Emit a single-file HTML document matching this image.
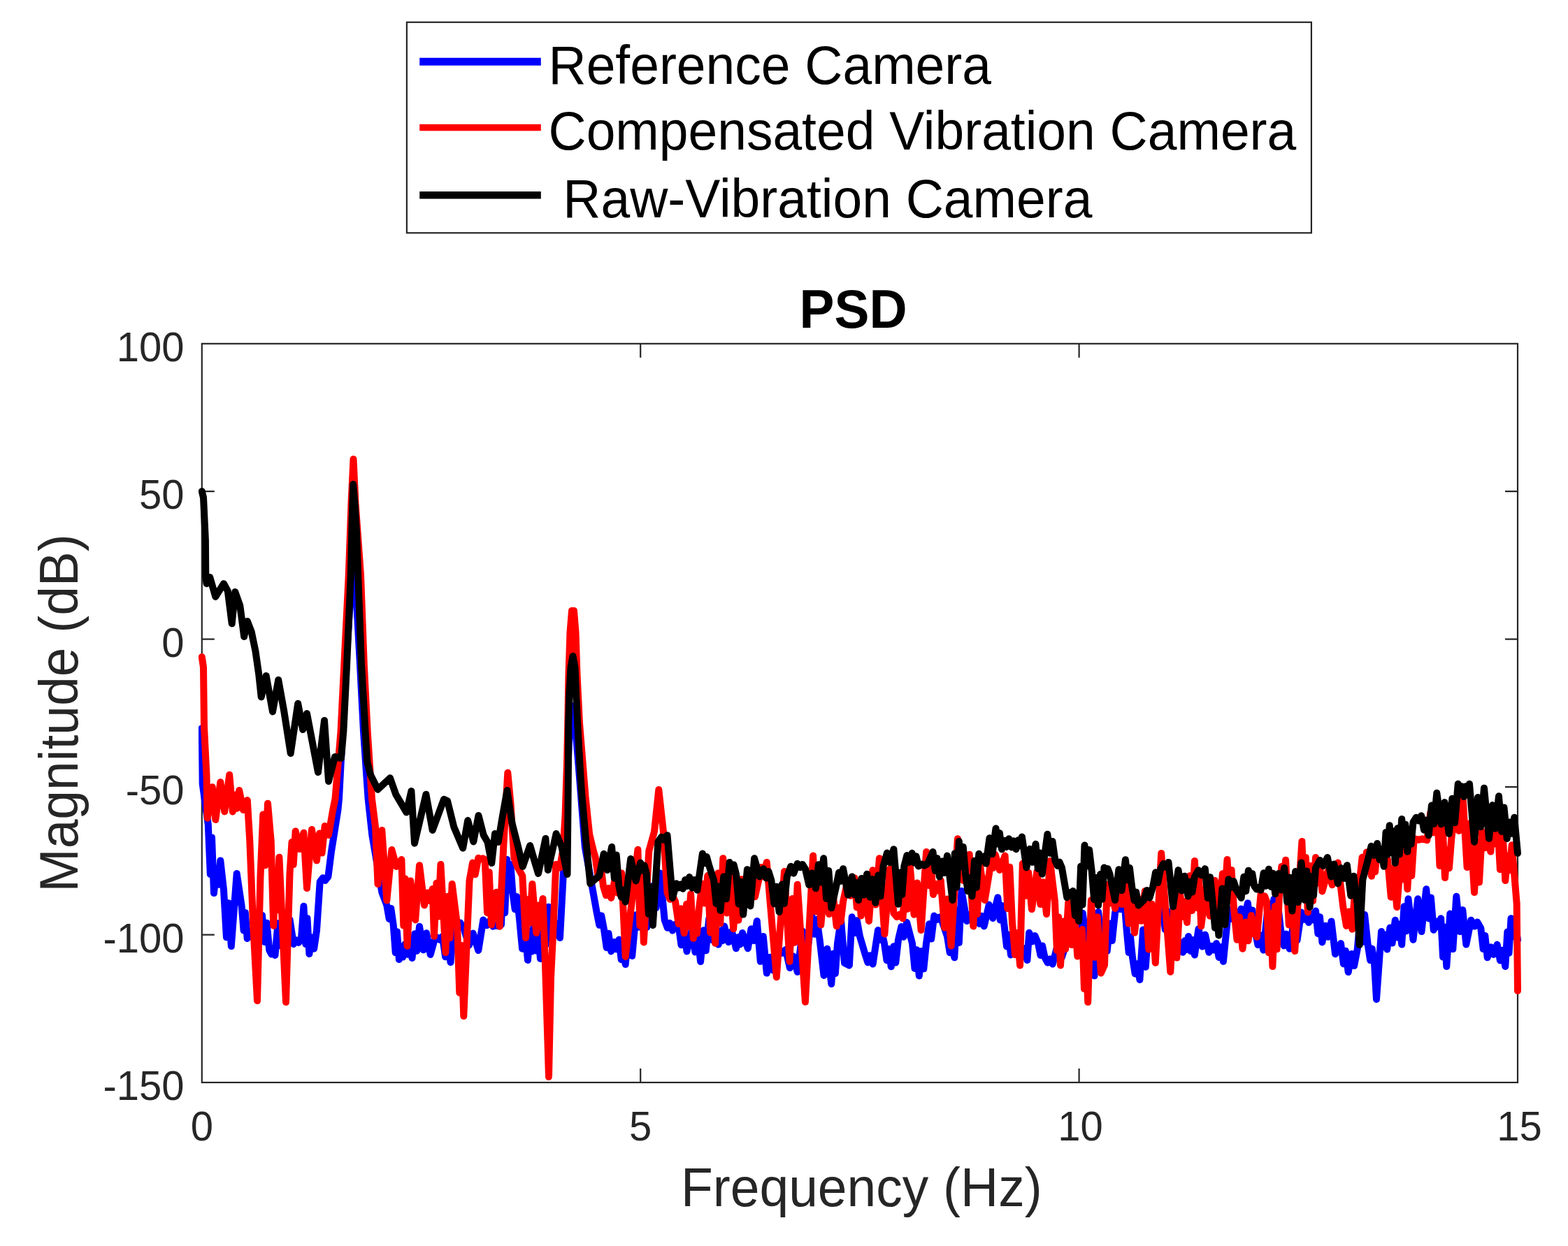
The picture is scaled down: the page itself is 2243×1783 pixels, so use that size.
<!DOCTYPE html>
<html><head><meta charset="utf-8"><title>PSD</title>
<style>html,body{margin:0;padding:0;background:#fff;overflow:hidden}svg{display:block}</style>
</head><body>
<svg width="2243" height="1783" viewBox="0 0 2243 1783">
<rect width="2243" height="1783" fill="#fff"/>
<rect x="288.8" y="491.8" width="1882.2" height="1057.2" fill="none" stroke="#262626" stroke-width="2.2"/>
<path d="M916.2,491.8V511.8M916.2,1549.0V1529.0M1543.6,491.8V511.8M1543.6,1549.0V1529.0M288.8,703.2H306.8M2171.0,703.2H2153.0M288.8,914.7H306.8M2171.0,914.7H2153.0M288.8,1126.1H306.8M2171.0,1126.1H2153.0M288.8,1337.6H306.8M2171.0,1337.6H2153.0" stroke="#262626" stroke-width="2.2" fill="none"/>
<clipPath id="c"><rect x="283.8" y="486.8" width="1892.2" height="1067.2"/></clipPath>
<g clip-path="url(#c)" fill="none" stroke-width="10" stroke-linejoin="round" stroke-linecap="round">
<polyline stroke="#0000ff" points="288.8,1042.0 289.7,1121.7 297.8,1180.0 300.8,1251.0 303.0,1198.4 306.0,1278.0 309.3,1244.2 312.0,1265.9 315.3,1231.4 320.0,1273.4 323.9,1341.2 326.9,1292.2 330.8,1354.0 338.7,1250.0 345.7,1296.7 348.6,1331.5 350.8,1305.9 353.7,1343.0 357.8,1332.1 360.9,1340.8 365.0,1330.0 368.6,1314.9 371.4,1326.0 375.0,1310.0 378.7,1348.1 381.6,1320.7 385.3,1359.7 388.3,1365.4 390.5,1361.7 393.5,1367.0 397.6,1321.2 400.9,1353.1 405.0,1310.0 410.4,1341.1 414.6,1316.2 420.0,1351.0 424.0,1345.3 427.0,1348.9 431.0,1343.0 434.4,1296.7 437.3,1351.1 439.5,1314.0 442.4,1365.0 446.2,1341.5 449.2,1357.5 453.0,1331.7 457.7,1261.7 461.9,1256.2 465.2,1259.9 469.4,1254.7 474.0,1218.4 483.3,1160.0 485.0,1143.0 490.0,1047.0 495.0,951.0 501.0,860.0 504.0,790.0 505.5,778.0 507.0,790.0 510.0,860.0 515.0,951.0 520.0,1047.0 526.6,1143.0 532.3,1195.0 546.3,1276.7 553.3,1295.4 556.7,1315.0 559.3,1299.9 562.7,1323.4 565.7,1363.1 567.9,1333.2 570.9,1373.0 573.8,1355.7 576.1,1369.6 579.0,1351.4 582.8,1365.7 585.7,1356.8 589.5,1371.0 593.3,1336.2 596.2,1360.7 600.0,1325.7 605.7,1359.3 610.0,1335.2 615.7,1366.0 621.0,1346.7 625.3,1341.4 628.7,1344.8 633.0,1340.0 637.1,1369.2 640.4,1349.2 644.5,1377.0 649.3,1318.7 654.3,1325.3 658.3,1320.4 663.3,1328.0 670.9,1352.7 676.7,1335.4 684.3,1360.0 691.3,1316.4 696.3,1324.2 700.3,1318.1 705.3,1325.7 709.5,1324.0 712.8,1325.3 717.0,1323.4 720.0,1254.4 722.2,1306.0 725.2,1230.0 728.1,1268.9 730.4,1237.0 733.3,1276.7 736.7,1301.2 739.3,1283.1 742.7,1311.7 747.1,1357.7 750.6,1329.3 755.0,1374.0 758.1,1332.2 760.6,1361.5 763.7,1323.4 767.0,1360.4 769.7,1335.2 773.0,1372.0 777.2,1315.9 780.5,1352.1 784.7,1297.7 801.0,1342.0 805.7,1253.4 810.0,1150.0 815.0,1040.0 819.0,1010.0 823.0,1040.0 828.0,1100.0 836.8,1212.0 853.6,1305.4 857.3,1323.8 860.3,1310.3 864.0,1330.0 867.7,1356.1 870.5,1335.8 874.2,1361.4 878.2,1347.9 881.4,1358.2 885.4,1344.6 888.7,1373.2 891.4,1351.1 894.7,1380.0 900.1,1323.1 904.2,1368.0 909.6,1309.2 913.3,1326.7 916.3,1315.0 920.0,1330.0 923.0,1314.3 925.3,1326.8 928.3,1311.0 934.0,1267.7 938.5,1299.0 944.2,1249.4 950.7,1316.6 954.8,1327.8 957.9,1320.8 962.0,1331.6 964.9,1323.1 967.1,1328.6 970.0,1320.0 974.5,1352.3 978.0,1329.4 982.5,1361.4 990.0,1330.0 994.4,1362.4 997.7,1337.5 1002.1,1376.0 1006.5,1331.2 1009.8,1360.3 1014.2,1314.7 1019.1,1345.3 1022.8,1321.4 1027.7,1351.6 1030.7,1331.7 1033.1,1346.3 1036.1,1325.4 1042.2,1348.1 1046.9,1332.6 1053.0,1357.2 1056.2,1340.9 1058.8,1351.4 1062.0,1335.0 1069.8,1357.2 1074.5,1329.2 1078.1,1346.1 1082.8,1318.0 1087.8,1375.8 1091.8,1340.0 1096.8,1392.6 1101.6,1369.7 1105.2,1388.2 1110.0,1365.0 1115.0,1360.5 1118.9,1363.7 1123.9,1359.0 1129.9,1385.1 1134.7,1368.3 1140.7,1390.8 1148.1,1332.7 1153.9,1371.0 1161.3,1310.5 1165.3,1336.7 1168.5,1315.8 1172.5,1344.1 1178.5,1395.9 1183.3,1357.7 1189.3,1408.0 1192.4,1364.4 1194.9,1392.9 1198.0,1350.0 1203.0,1316.0 1208.0,1378.0 1214.9,1381.4 1218.7,1312.3 1222.8,1335.1 1225.9,1317.3 1230.0,1340.0 1237.3,1364.6 1241.4,1377.2 1244.5,1367.2 1248.6,1379.6 1256.0,1331.0 1259.2,1345.1 1261.8,1335.7 1265.0,1350.0 1268.5,1374.2 1271.2,1358.0 1274.7,1383.3 1278.4,1354.3 1281.3,1377.5 1285.0,1345.0 1289.4,1326.0 1292.7,1340.8 1297.1,1319.8 1305.0,1350.0 1308.5,1386.0 1311.3,1359.3 1314.8,1396.4 1318.5,1361.0 1321.3,1386.4 1325.0,1350.0 1329.1,1322.2 1332.2,1343.6 1336.3,1310.5 1340.3,1315.9 1343.5,1312.4 1347.5,1318.0 1355.0,1340.0 1358.7,1363.3 1361.6,1346.7 1365.3,1370.2 1369.0,1302.6 1371.8,1349.1 1375.5,1275.0 1383.0,1318.0 1388.2,1308.5 1392.3,1314.7 1397.5,1306.7 1401.2,1322.0 1404.0,1310.7 1407.7,1325.4 1414.8,1294.6 1420.2,1314.0 1427.3,1284.3 1430.7,1316.5 1433.3,1295.9 1436.7,1325.4 1440.0,1354.4 1442.7,1337.7 1446.0,1366.5 1450.3,1353.7 1453.7,1361.9 1458.0,1350.0 1462.1,1368.0 1465.3,1357.1 1469.4,1374.0 1472.2,1334.7 1476.8,1347.2 1480.4,1339.0 1485.0,1350.0 1488.5,1367.0 1491.1,1353.4 1494.6,1370.2 1498.6,1377.5 1501.8,1372.3 1505.8,1379.6 1513.2,1351.1 1518.9,1370.1 1526.3,1346.0 1534.4,1317.9 1540.6,1337.8 1548.7,1306.7 1556.0,1360.0 1559.4,1389.1 1562.1,1369.9 1565.5,1396.4 1571.1,1304.9 1575.6,1347.2 1579.2,1321.4 1583.7,1360.9 1587.8,1321.4 1590.9,1346.0 1595.0,1306.7 1599.7,1287.7 1603.3,1301.1 1608.0,1284.3 1611.7,1331.0 1614.7,1363.1 1617.0,1340.5 1620.0,1370.0 1623.7,1393.5 1626.7,1379.2 1630.4,1402.0 1635.1,1330.5 1638.8,1383.7 1643.5,1316.1 1646.6,1319.1 1648.9,1316.9 1652.0,1320.0 1655.7,1302.7 1658.5,1313.8 1662.2,1297.4 1666.8,1330.2 1670.4,1304.3 1675.0,1340.0 1681.1,1356.9 1685.9,1346.8 1692.0,1362.8 1694.9,1346.1 1697.1,1358.9 1700.0,1340.0 1703.2,1360.9 1705.7,1344.9 1708.9,1366.5 1714.5,1329.2 1719.9,1354.5 1724.0,1337.5 1729.4,1362.8 1733.2,1353.7 1736.2,1359.4 1740.0,1350.0 1743.6,1369.9 1746.3,1355.1 1749.9,1375.8 1757.4,1301.1 1761.9,1314.8 1765.5,1305.4 1770.0,1320.0 1775.4,1300.6 1779.5,1315.7 1784.9,1292.3 1788.5,1323.7 1791.4,1302.4 1795.0,1330.0 1799.4,1352.0 1802.9,1338.1 1807.3,1359.6 1812.7,1307.6 1816.9,1338.9 1822.3,1286.7 1825.8,1319.0 1828.5,1298.9 1832.0,1330.0 1836.6,1353.3 1840.1,1336.6 1844.7,1357.7 1850.7,1319.2 1855.5,1345.4 1861.5,1305.4 1865.3,1315.7 1868.2,1308.8 1872.0,1320.0 1875.6,1307.5 1878.4,1316.4 1882.0,1303.5 1885.4,1336.2 1888.0,1312.1 1891.4,1348.4 1896.1,1324.7 1899.8,1340.8 1904.5,1318.5 1910.0,1365.2 1912.9,1354.1 1915.1,1362.1 1918.0,1350.0 1921.9,1379.3 1924.8,1360.7 1928.7,1391.0 1933.4,1364.9 1937.1,1382.0 1941.8,1357.7 1945.5,1316.5 1948.4,1348.2 1952.1,1309.1 1956.7,1352.1 1960.1,1374.1 1962.7,1357.6 1966.1,1380.1 1969.0,1430.0 1976.0,1333.0 1979.0,1351.2 1981.2,1337.5 1984.2,1358.6 1988.4,1327.4 1991.6,1349.5 1995.8,1316.7 1999.2,1341.5 2001.8,1322.4 2005.2,1351.6 2008.5,1297.3 2011.2,1332.5 2014.5,1286.3 2021.5,1344.7 2028.2,1286.3 2033.5,1333.1 2040.2,1272.3 2044.0,1314.4 2046.9,1284.6 2050.7,1330.7 2054.5,1318.6 2057.4,1326.5 2061.2,1314.3 2064.1,1369.5 2066.4,1326.4 2069.3,1383.0 2074.3,1307.6 2078.3,1358.1 2083.3,1282.8 2088.3,1333.1 2092.3,1302.1 2097.3,1351.6 2104.3,1316.7 2109.3,1325.6 2113.3,1319.5 2118.3,1328.3 2121.7,1358.1 2124.3,1338.9 2127.7,1370.3 2132.7,1355.2 2136.7,1365.9 2141.7,1351.6 2145.9,1374.4 2149.1,1359.8 2153.3,1383.0 2156.3,1333.6 2158.5,1363.7 2161.5,1314.3 2164.9,1340.3 2167.6,1322.2 2171.0,1345.0"/>
<polyline stroke="#ff0000" points="288.8,940.0 291.0,955.0 292.0,1040.0 295.5,1110.0 296.7,1170.7 303.7,1126.3 308.3,1173.0 315.3,1119.3 321.2,1161.4 328.2,1108.8 332.8,1161.4 336.2,1137.4 338.8,1156.8 342.2,1131.0 348.0,1159.0 353.8,1145.0 357.3,1203.4 362.0,1320.0 368.0,1432.0 372.5,1254.7 376.3,1165.5 379.2,1238.3 383.0,1149.7 387.7,1203.4 391.2,1324.7 394.2,1251.0 396.4,1302.0 399.4,1226.7 409.0,1434.0 414.5,1250.0 417.5,1205.1 419.7,1237.1 422.7,1189.4 428.5,1215.0 434.4,1191.7 439.0,1271.0 446.0,1187.0 453.0,1231.4 457.2,1192.4 460.5,1220.6 464.7,1182.0 470.0,1195.0 476.0,1160.0 479.5,1143.0 487.5,1047.0 492.3,951.0 498.8,822.5 502.5,720.0 505.5,657.0 508.5,720.0 516.0,822.5 520.8,951.0 525.7,1047.0 532.0,1143.0 537.0,1183.4 540.5,1265.0 546.3,1188.0 553.3,1288.4 560.4,1216.0 567.0,1240.0 574.4,1230.0 577.3,1324.6 579.6,1257.2 582.5,1353.7 587.2,1260.4 594.2,1316.4 600.0,1238.2 607.0,1295.4 611.2,1277.4 614.5,1288.8 618.7,1272.0 621.0,1339.7 624.4,1263.8 627.0,1311.4 630.4,1237.0 637.4,1363.0 640.7,1282.7 643.4,1342.4 646.7,1265.0 654.0,1323.4 657.3,1420.7 660.0,1353.0 663.3,1454.0 671.5,1260.4 676.1,1234.6 679.7,1251.4 684.3,1227.7 687.7,1229.3 690.3,1228.3 693.7,1230.0 697.0,1306.0 699.7,1248.0 703.0,1323.4 710.0,1276.7 714.7,1325.7 720.5,1206.7 726.3,1105.7 730.5,1150.0 733.0,1190.0 735.5,1228.0 740.0,1240.0 747.3,1253.4 752.0,1342.0 755.4,1287.1 758.0,1320.6 761.4,1265.0 767.2,1335.0 770.5,1295.4 773.2,1326.5 776.5,1286.0 780.0,1380.0 785.0,1541.0 788.0,1400.0 791.7,1323.4 795.2,1237.0 801.0,1241.7 805.5,1215.0 808.5,1168.0 811.0,1093.0 812.3,1035.0 813.5,965.0 815.5,905.0 818.0,874.0 821.0,874.0 823.5,905.0 825.5,965.0 829.0,1035.0 833.7,1093.0 837.5,1140.0 843.2,1194.0 849.0,1218.0 851.7,1227.0 855.8,1256.0 858.9,1235.1 863.0,1268.0 867.0,1281.3 870.2,1270.9 874.2,1284.9 879.6,1258.5 883.7,1277.9 889.1,1249.4 894.7,1368.9 912.4,1215.8 915.4,1324.7 917.8,1244.6 920.8,1348.4 928.3,1217.6 936.0,1190.0 942.3,1130.0 948.9,1189.6 954.5,1277.4 958.6,1286.9 961.9,1281.1 966.0,1290.0 970.6,1321.9 974.1,1300.3 978.7,1335.3 982.1,1293.8 984.7,1325.9 988.1,1279.3 991.8,1342.8 994.8,1309.1 997.0,1335.7 1000.0,1300.0 1004.4,1264.7 1007.9,1292.6 1012.3,1253.1 1016.2,1334.6 1019.2,1281.4 1023.1,1349.7 1027.1,1249.5 1030.3,1321.3 1034.3,1228.3 1039.7,1306.4 1043.8,1251.2 1049.2,1329.2 1053.2,1272.0 1056.4,1316.7 1060.4,1258.2 1064.4,1279.5 1067.6,1264.7 1071.6,1288.1 1076.3,1268.3 1080.0,1283.3 1084.7,1261.9 1089.1,1241.1 1092.4,1254.7 1096.8,1233.9 1110.8,1398.2 1122.0,1247.0 1129.5,1375.8 1133.5,1285.9 1136.7,1348.8 1140.7,1265.7 1151.9,1433.7 1163.1,1224.6 1167.1,1304.5 1170.3,1253.5 1174.3,1323.6 1179.9,1260.0 1185.9,1308.0 1190.7,1272.4 1196.7,1325.4 1200.1,1298.9 1202.7,1318.7 1206.1,1290.0 1212.0,1263.0 1216.5,1281.8 1222.4,1256.3 1225.7,1298.5 1228.4,1265.6 1231.7,1310.5 1237.0,1280.0 1243.0,1318.0 1248.4,1245.2 1252.5,1294.6 1257.9,1228.3 1265.4,1336.6 1272.8,1243.2 1278.4,1306.7 1283.1,1312.1 1286.8,1308.6 1291.5,1314.2 1295.2,1261.3 1298.1,1300.8 1301.8,1239.5 1307.5,1308.7 1311.9,1263.5 1317.6,1331.0 1325.1,1219.0 1328.7,1266.9 1331.4,1236.3 1335.0,1280.0 1338.9,1265.0 1341.8,1274.5 1345.7,1260.0 1351.1,1327.5 1355.2,1286.6 1360.6,1353.4 1369.9,1200.3 1372.8,1246.9 1375.1,1213.2 1378.0,1260.0 1381.1,1230.0 1383.6,1249.3 1386.7,1222.7 1392.3,1325.4 1395.5,1255.1 1398.0,1307.9 1401.2,1232.0 1408.7,1288.1 1415.0,1250.0 1418.1,1228.2 1420.5,1242.0 1423.6,1222.7 1430.0,1245.0 1437.6,1224.6 1441.3,1300.0 1444.3,1240.7 1448.0,1320.0 1452.0,1366.1 1455.1,1335.1 1459.1,1381.4 1462.8,1235.8 1467.5,1281.8 1471.2,1248.7 1475.9,1301.1 1483.4,1247.0 1488.3,1294.1 1492.1,1262.3 1497.0,1308.0 1502.0,1232.0 1509.0,1290.0 1511.9,1360.1 1514.1,1312.3 1517.0,1381.4 1521.0,1318.4 1524.2,1358.0 1528.2,1291.8 1532.9,1352.0 1536.6,1303.7 1541.3,1368.4 1548.0,1330.0 1551.0,1415.0 1553.2,1352.6 1556.2,1434.0 1560.9,1288.1 1565.9,1369.8 1569.9,1312.3 1574.9,1392.6 1580.0,1381.0 1583.7,1265.7 1587.8,1292.6 1590.9,1270.9 1595.0,1300.0 1600.4,1275.2 1604.5,1294.1 1609.9,1265.7 1614.6,1321.6 1618.3,1286.3 1623.0,1334.7 1628.4,1285.9 1632.5,1317.8 1637.9,1275.0 1643.3,1358.6 1647.4,1293.6 1652.8,1377.7 1661.2,1221.0 1674.3,1390.8 1679.3,1297.5 1683.3,1370.6 1688.3,1280.6 1691.8,1311.9 1694.5,1289.9 1698.0,1320.0 1701.9,1253.3 1705.0,1302.9 1708.9,1232.0 1712.2,1299.0 1714.9,1248.8 1718.2,1325.4 1725.3,1270.9 1730.7,1310.8 1737.8,1260.0 1745.0,1300.0 1748.8,1250.3 1751.7,1285.0 1755.5,1230.0 1758.9,1288.3 1761.6,1244.9 1765.0,1300.0 1769.5,1344.8 1773.0,1312.1 1777.5,1357.7 1782.0,1319.5 1785.5,1346.2 1790.0,1310.0 1792.9,1336.2 1795.1,1318.9 1798.0,1340.9 1803.6,1279.3 1806.6,1287.6 1809.0,1282.3 1812.0,1290.0 1815.0,1363.2 1817.4,1306.8 1820.4,1383.0 1823.9,1296.8 1826.5,1358.3 1830.0,1280.0 1833.3,1239.9 1835.8,1268.3 1839.1,1230.7 1843.8,1323.6 1847.5,1265.9 1852.2,1361.0 1862.4,1204.0 1865.4,1282.7 1867.8,1227.1 1870.8,1305.4 1874.8,1239.0 1878.0,1289.3 1882.0,1227.0 1885.4,1263.6 1888.0,1238.0 1891.4,1275.5 1899.5,1246.5 1905.7,1266.3 1913.8,1234.5 1921.3,1297.9 1926.0,1324.9 1929.6,1304.5 1934.3,1329.7 1938.2,1273.5 1941.1,1310.4 1945.0,1260.0 1948.6,1226.8 1951.3,1249.1 1954.9,1219.5 1962.0,1253.7 1964.9,1221.6 1967.1,1247.5 1970.0,1215.0 1975.4,1226.8 1979.6,1217.3 1985.0,1230.0 1989.8,1283.7 1993.4,1242.0 1998.2,1298.0 2005.2,1211.7 2008.1,1258.4 2010.4,1226.4 2013.3,1272.3 2016.7,1215.6 2019.3,1253.3 2022.7,1200.0 2029.4,1201.8 2034.6,1200.4 2041.3,1202.3 2046.3,1162.7 2050.3,1191.4 2055.3,1146.3 2059.5,1239.1 2062.8,1162.9 2067.0,1256.0 2070.3,1216.3 2073.0,1242.2 2076.3,1200.0 2082.2,1151.1 2086.8,1188.9 2092.7,1141.7 2098.6,1241.1 2103.1,1178.0 2109.0,1277.0 2113.0,1204.9 2116.0,1262.4 2120.0,1190.0 2124.4,1213.2 2127.9,1196.2 2132.3,1218.7 2135.7,1180.8 2138.3,1207.6 2141.7,1167.3 2145.9,1244.3 2149.1,1183.0 2153.3,1260.0 2156.7,1224.5 2159.3,1245.4 2162.7,1209.3 2169.7,1293.3 2171.0,1418.0"/>
<polyline stroke="#000000" points="288.8,703.0 291.0,712.0 293.9,773.0 294.3,824.7 295.5,835.2 300.2,825.9 308.3,853.9 320.0,835.2 325.8,845.7 331.7,892.4 336.3,846.9 343.3,866.7 349.2,911.0 353.8,888.9 359.7,904.0 365.5,932.0 370.2,964.7 373.7,997.4 380.7,967.0 390.0,1018.4 398.2,972.9 406.4,1018.4 415.7,1078.0 426.2,1006.7 433.2,1044.0 439.0,1021.0 455.0,1105.0 464.0,1031.0 470.0,1118.0 479.0,1083.0 488.0,1085.0 491.3,1047.0 496.1,951.0 501.8,822.5 503.5,750.0 505.2,693.0 507.5,720.0 510.0,760.0 512.2,822.5 517.0,951.0 522.6,1047.0 525.3,1090.0 530.0,1108.7 540.5,1129.7 558.0,1113.3 566.2,1136.7 581.4,1162.4 588.4,1132.0 593.0,1206.7 609.4,1136.7 618.7,1188.0 635.0,1143.7 640.0,1146.0 649.3,1183.4 662.2,1213.7 669.2,1174.0 677.3,1204.4 684.5,1167.0 691.7,1195.0 697.5,1205.0 703.3,1235.0 708.0,1193.0 712.7,1205.0 718.5,1170.0 725.5,1131.0 732.5,1178.0 740.7,1210.0 747.7,1240.0 758.2,1210.0 764.0,1230.0 770.0,1250.0 780.4,1200.0 783.9,1245.0 795.6,1193.0 803.4,1211.4 811.5,1251.0 812.5,1152.0 813.0,1090.0 813.2,1035.0 814.5,990.0 816.5,955.0 819.5,939.0 822.5,955.0 824.0,990.0 826.2,1035.0 829.5,1094.0 832.0,1133.0 837.3,1194.0 844.3,1264.3 857.3,1253.0 863.7,1221.8 868.7,1245.0 875.1,1212.0 878.8,1256.7 881.7,1223.4 885.4,1268.0 888.7,1283.8 891.4,1273.8 894.7,1290.5 902.2,1228.9 909.6,1260.6 916.2,1234.5 919.2,1245.8 921.6,1238.4 924.6,1249.4 927.9,1307.9 930.6,1269.2 933.9,1324.0 941.4,1204.6 946.1,1197.7 949.8,1202.0 954.5,1195.2 962.0,1284.9 967.5,1264.3 970.9,1270.4 973.5,1265.6 976.9,1271.8 980.2,1259.0 982.9,1267.9 986.2,1255.0 990.2,1270.7 993.4,1259.1 997.4,1273.7 1004.9,1221.4 1008.2,1235.3 1010.9,1226.1 1014.2,1238.2 1021.2,1260.0 1024.5,1293.1 1027.2,1268.4 1030.5,1303.0 1035.2,1254.4 1038.9,1286.4 1043.6,1233.9 1047.0,1246.4 1049.6,1237.4 1053.0,1250.7 1056.7,1293.5 1059.5,1261.7 1063.2,1308.6 1068.9,1244.2 1073.4,1296.4 1079.1,1228.3 1086.6,1254.5 1092.2,1243.2 1096.2,1256.5 1099.4,1246.9 1103.4,1260.0 1107.4,1293.2 1110.6,1268.7 1114.6,1304.9 1118.6,1265.5 1121.8,1293.0 1125.8,1254.5 1131.2,1239.8 1135.3,1249.7 1140.7,1235.8 1144.7,1241.2 1147.9,1237.0 1151.9,1243.2 1157.3,1266.3 1161.5,1249.4 1166.9,1271.3 1170.9,1237.2 1174.1,1262.5 1178.1,1228.3 1182.1,1286.0 1185.3,1245.9 1189.3,1299.3 1196.7,1265.7 1200.1,1248.6 1202.7,1260.9 1206.1,1243.2 1213.1,1280.6 1218.7,1254.5 1222.0,1280.0 1224.7,1263.0 1228.0,1288.1 1232.4,1256.9 1235.7,1280.5 1240.1,1250.7 1244.5,1283.8 1247.9,1258.1 1252.3,1291.8 1256.3,1252.4 1259.5,1282.5 1263.5,1239.5 1268.9,1220.6 1273.0,1234.2 1278.4,1215.2 1285.0,1293.7 1288.0,1248.5 1290.4,1280.1 1293.4,1239.5 1297.4,1224.0 1300.6,1233.9 1304.6,1220.8 1307.9,1234.8 1310.6,1225.3 1313.9,1239.5 1318.6,1236.5 1322.3,1238.6 1327.0,1235.8 1334.5,1219.0 1337.8,1246.1 1340.5,1228.2 1343.8,1254.5 1347.8,1232.5 1351.0,1249.0 1355.0,1224.6 1362.5,1288.1 1365.8,1221.2 1368.5,1269.6 1371.8,1204.0 1375.1,1239.9 1377.8,1212.0 1381.1,1250.7 1384.5,1275.2 1387.1,1256.2 1390.5,1282.5 1394.0,1231.7 1396.8,1270.0 1400.3,1221.8 1404.0,1232.5 1406.8,1225.5 1410.5,1235.8 1415.5,1199.2 1419.5,1222.2 1424.5,1185.4 1427.6,1207.8 1429.9,1192.2 1433.0,1215.2 1436.7,1202.9 1439.5,1211.9 1443.2,1200.3 1446.9,1212.4 1449.8,1203.2 1453.5,1215.2 1456.5,1202.3 1458.9,1210.2 1461.9,1197.5 1468.4,1241.4 1473.1,1214.8 1476.8,1233.8 1481.5,1207.8 1484.8,1243.2 1487.5,1220.4 1490.8,1250.7 1498.3,1193.8 1502.3,1220.9 1505.5,1203.9 1509.5,1232.0 1512.9,1239.0 1515.5,1233.6 1518.9,1241.4 1526.3,1284.3 1529.4,1277.0 1531.9,1282.1 1535.0,1275.0 1537.9,1310.2 1540.2,1287.2 1543.1,1318.0 1546.1,1239.7 1548.5,1294.5 1551.5,1209.6 1555.2,1239.3 1558.1,1216.1 1561.8,1247.0 1565.1,1287.2 1567.8,1256.1 1571.1,1295.5 1574.1,1251.1 1576.5,1286.8 1579.5,1241.4 1582.4,1249.1 1584.6,1243.1 1587.5,1250.7 1595.0,1288.1 1600.4,1244.2 1604.5,1274.2 1609.9,1230.2 1613.2,1259.4 1615.9,1241.9 1619.2,1269.4 1622.6,1288.4 1625.2,1276.7 1628.6,1295.5 1636.0,1288.1 1640.7,1274.0 1644.4,1284.7 1649.1,1269.4 1653.1,1248.3 1656.3,1263.1 1660.3,1243.2 1664.3,1235.9 1667.5,1240.9 1671.5,1233.9 1678.0,1297.4 1685.5,1245.1 1690.5,1274.6 1694.5,1253.7 1699.5,1282.5 1702.9,1261.6 1705.5,1276.6 1708.9,1254.5 1714.3,1245.3 1718.4,1252.3 1723.8,1243.2 1727.8,1285.2 1731.0,1255.2 1735.0,1293.7 1738.0,1327.7 1740.4,1306.5 1743.4,1338.5 1748.4,1271.6 1752.4,1323.2 1757.4,1258.2 1761.4,1269.9 1764.6,1260.9 1768.6,1273.1 1775.6,1284.9 1779.3,1254.8 1782.2,1275.2 1785.9,1245.7 1788.9,1263.0 1791.3,1250.1 1794.3,1268.0 1797.6,1272.6 1800.3,1269.7 1803.6,1273.7 1807.6,1249.2 1810.8,1267.8 1814.8,1243.8 1818.2,1268.9 1820.8,1249.8 1824.2,1279.3 1828.9,1250.0 1832.5,1273.5 1837.2,1241.9 1841.2,1290.7 1844.4,1255.4 1848.4,1303.5 1853.1,1247.1 1856.8,1291.1 1861.5,1234.5 1865.9,1287.8 1869.2,1246.4 1873.6,1297.9 1876.6,1253.8 1879.0,1281.2 1882.0,1241.9 1888.1,1230.9 1892.8,1239.1 1898.9,1227.0 1904.3,1254.6 1908.4,1236.6 1913.8,1264.3 1918.5,1242.1 1922.2,1257.0 1926.9,1238.2 1932.3,1281.7 1936.4,1253.8 1941.8,1294.2 1944.6,1352.1 1949.3,1258.7 1956.7,1230.7 1961.6,1210.8 1965.3,1224.0 1970.2,1207.0 1973.5,1230.3 1976.2,1215.2 1979.5,1239.7 1982.5,1190.9 1984.7,1222.9 1987.7,1181.3 1990.6,1220.3 1992.9,1189.5 1995.8,1235.0 1999.2,1185.3 2001.8,1222.6 2005.2,1172.0 2008.1,1208.1 2010.4,1179.8 2013.3,1218.7 2016.3,1186.5 2018.5,1207.9 2021.5,1176.7 2025.7,1169.8 2029.0,1174.5 2033.2,1167.3 2037.0,1187.7 2039.9,1173.6 2043.7,1195.3 2047.9,1152.6 2051.1,1179.1 2055.3,1134.7 2061.6,1179.4 2066.5,1148.1 2072.8,1193.0 2077.4,1142.7 2081.1,1177.3 2085.7,1121.8 2088.7,1135.7 2091.0,1125.3 2094.0,1140.0 2096.9,1125.2 2099.1,1135.1 2102.0,1121.8 2109.0,1204.7 2114.0,1141.1 2118.0,1183.3 2123.0,1127.7 2130.0,1200.0 2135.0,1152.1 2139.0,1185.7 2144.0,1139.3 2148.2,1189.9 2151.5,1155.5 2155.7,1200.0 2159.5,1176.5 2162.4,1192.8 2166.2,1169.7 2171.0,1221.0"/>
</g>
<g font-family="Liberation Sans, Arial, sans-serif" font-size="58" fill="#262626">
<text transform="translate(263.5,516.9) scale(1,1.025)" text-anchor="end">100</text>
<text transform="translate(263.5,728.3) scale(1,1.025)" text-anchor="end">50</text>
<text transform="translate(263.5,939.7) scale(1,1.025)" text-anchor="end">0</text>
<text transform="translate(263.5,1151.2) scale(1,1.025)" text-anchor="end">-50</text>
<text transform="translate(263.5,1362.6) scale(1,1.025)" text-anchor="end">-100</text>
<text transform="translate(263.5,1574.1) scale(1,1.025)" text-anchor="end">-150</text>
<text transform="translate(288.8,1632) scale(1,1.025)" text-anchor="middle">0</text>
<text transform="translate(916.2,1632) scale(1,1.025)" text-anchor="middle">5</text>
<text transform="translate(1545.6,1632) scale(1,1.025)" text-anchor="middle">10</text>
<text transform="translate(2173.5,1632) scale(1,1.025)" text-anchor="middle">15</text>
</g>
<text transform="translate(1232.3,1726.4) scale(1,1.045)" text-anchor="middle" font-family="Liberation Sans, Arial, sans-serif" font-size="75" fill="#262626">Frequency (Hz)</text>
<text transform="translate(111.2,1020.5) rotate(-90) scale(1,1.045)" text-anchor="middle" font-family="Liberation Sans, Arial, sans-serif" font-size="75" fill="#262626">Magnitude (dB)</text>
<text transform="translate(1220.6,468.6) scale(1,1.045)" text-anchor="middle" font-family="Liberation Sans, Arial, sans-serif" font-size="75" font-weight="bold" fill="#000">PSD</text>
<rect x="581.9" y="31.8" width="1294" height="301.5" fill="#fff" stroke="#262626" stroke-width="2.2"/>
<line x1="600.2" x2="773.8" y1="88.2" y2="88.2" stroke="#0000ff" stroke-width="10.9"/>
<line x1="600.2" x2="773.8" y1="182.5" y2="182.5" stroke="#ff0000" stroke-width="9.5"/>
<line x1="600.2" x2="773.8" y1="279.3" y2="279.3" stroke="#000000" stroke-width="10.5"/>
<g font-family="Liberation Sans, Arial, sans-serif" font-size="75" fill="#000">
<text transform="translate(784.5,119.8) scale(1,1.045)">Reference Camera</text>
<text transform="translate(784.5,213.8) scale(1,1.045)">Compensated Vibration Camera</text>
<text transform="translate(784.5,310.8) scale(1,1.045)" xml:space="preserve"> Raw-Vibration Camera</text>
</g>
</svg>
</body></html>
